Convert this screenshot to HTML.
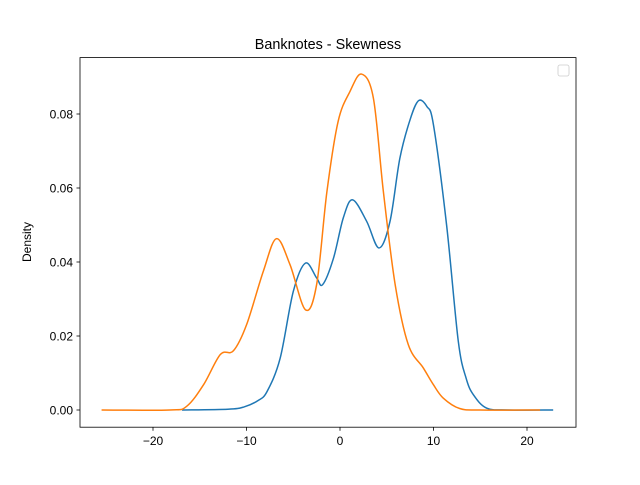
<!DOCTYPE html>
<html><head><meta charset="utf-8"><style>
body{margin:0;background:#fff}
text{font-family:"Liberation Sans","DejaVu Sans",sans-serif;fill:#000}
</style></head><body>
<svg id="chart" width="640" height="480" viewBox="0 0 640 480" xmlns="http://www.w3.org/2000/svg">
<rect x="0" y="0" width="640" height="480" fill="#fff"/>
<text x="328" y="49" font-size="14.4" text-anchor="middle">Banknotes - Skewness</text>
<text x="0" y="0" font-size="12" text-anchor="middle" transform="translate(31,242) rotate(-90)">Density</text>
<g id="ticks"></g>
<g id="series"></g>
<rect x="80" y="57.6" width="496" height="369.6" fill="none" stroke="#000" stroke-width="0.8"/>
<rect x="558" y="65" width="11" height="11" rx="2" fill="#fff" stroke="#ccc" stroke-width="0.8"/>
</svg>
<script>
const xTicks=[-20,-10,0,10,20];
const yTicks=[0,0.02,0.04,0.06,0.08];
const yTickLabels=["0.00","0.02","0.04","0.06","0.08"];
const blueX=[-16.9,-12,-10.3,-8.8,-7.8,-6.4,-5.0,-3.7,-2.5,-1.85,-0.7,0.36,1.35,2.85,4.17,5.35,6.4,7.5,8.4,9.3,10.0,11.4,12.65,13.5,14.3,15.7,18,22.8];
const blueY=[0,0.0002,0.0008,0.0025,0.005,0.014,0.032,0.0397,0.0357,0.0339,0.041,0.052,0.0568,0.051,0.0438,0.051,0.068,0.0785,0.0836,0.082,0.077,0.050,0.0186,0.0085,0.004,0.0005,0,0];
const orangeX=[-25.5,-18.2,-16.4,-14.6,-12.8,-11.4,-10.0,-8.2,-6.8,-5.35,-3.7,-2.5,-1.4,-0.2,1.07,2.3,3.57,4.64,5.9,7.3,8.9,10.0,11.05,12.8,15,21.4];
const orangeY=[0,0,0.001,0.0068,0.015,0.016,0.023,0.0375,0.0463,0.0393,0.0271,0.0339,0.059,0.078,0.0861,0.0908,0.0843,0.059,0.0339,0.0177,0.0114,0.0068,0.0032,0.0004,0,0];
const NS="http://www.w3.org/2000/svg";
function sx(v){return 340+v*9.35;}
function sy(v){return 410-v*3700;}
const tg=document.getElementById('ticks');
xTicks.forEach(t=>{
  const l=document.createElementNS(NS,'line');
  
  
  l.setAttribute('x1',sx(t));l.setAttribute('x2',sx(t));l.setAttribute('y1',427.2);l.setAttribute('y2',430.7);l.setAttribute('stroke','#000');l.setAttribute('stroke-width','0.8');
  tg.appendChild(l);
  const tx=document.createElementNS(NS,'text');
  
  
  tx.setAttribute('x',sx(t));tx.setAttribute('y',445);tx.setAttribute('font-size','12');tx.setAttribute('text-anchor','middle');
  tx.textContent=(t<0?'\u2212'+Math.abs(t):String(t));
  tg.appendChild(tx);
});
yTicks.forEach((t,i)=>{
  const l=document.createElementNS(NS,'line');
  
  
  l.setAttribute('x1',76.5);l.setAttribute('x2',80);l.setAttribute('y1',sy(t));l.setAttribute('y2',sy(t));l.setAttribute('stroke','#000');l.setAttribute('stroke-width','0.8');
  tg.appendChild(l);
  const tx=document.createElementNS(NS,'text');
  
  
  tx.setAttribute('x',73);tx.setAttribute('y',sy(t)+4.3);tx.setAttribute('font-size','12');tx.setAttribute('text-anchor','end');
  tx.textContent=yTickLabels[i];
  tg.appendChild(tx);
});
function pathFor(xs,ys){
  const p=xs.map((x,i)=>[sx(x),sy(ys[i])]);
  let d='M'+p[0][0]+','+p[0][1];
  for(let i=0;i<p.length-1;i++){
    const p0=p[Math.max(0,i-1)],p1=p[i],p2=p[i+1],p3=p[Math.min(p.length-1,i+2)];
    const c1=[p1[0]+(p2[0]-p0[0])/6,p1[1]+(p2[1]-p0[1])/6];
    const c2=[p2[0]-(p3[0]-p1[0])/6,p2[1]-(p3[1]-p1[1])/6];
    d+=' C'+c1[0]+','+c1[1]+' '+c2[0]+','+c2[1]+' '+p2[0]+','+p2[1];
  }
  return d;
}
const sg=document.getElementById('series');
const b=document.createElementNS(NS,'path');


b.setAttribute('d',pathFor(blueX,blueY));b.setAttribute('fill','none');b.setAttribute('stroke','#1f77b4');b.setAttribute('stroke-width','1.5');
sg.appendChild(b);
const o=document.createElementNS(NS,'path');


o.setAttribute('d',pathFor(orangeX,orangeY));o.setAttribute('fill','none');o.setAttribute('stroke','#ff7f0e');o.setAttribute('stroke-width','1.5');
sg.appendChild(o);
</script>
</body></html>
